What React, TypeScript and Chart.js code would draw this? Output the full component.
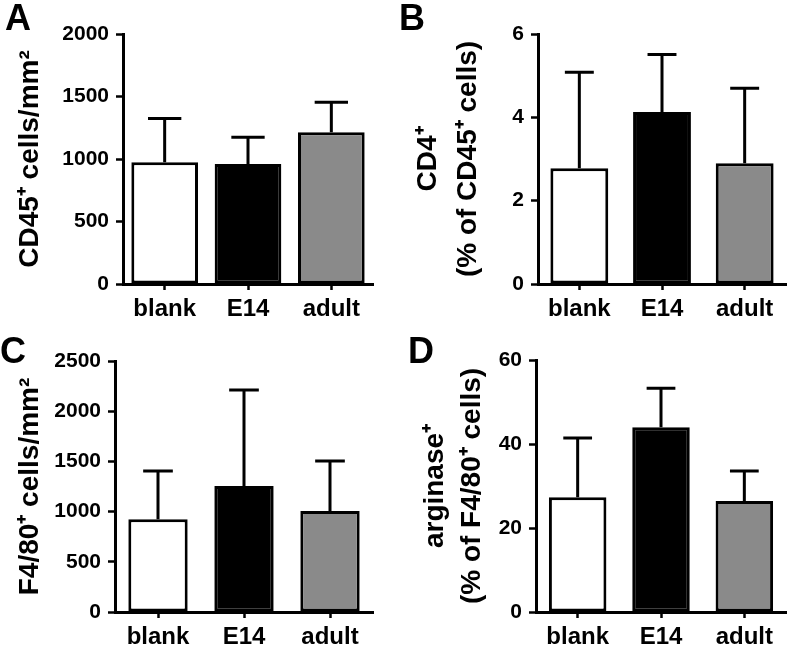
import React, { useEffect, useRef } from "react";
import { Chart, registerables } from "chart.js";

Chart.register(...registerables);

// ---------- data ----------
const categories = ["blank", "E14", "adult"];
const barColors = ["#ffffff", "#000000", "#8a8a8a"];

const cd45Means = [975, 960, 1215];
const cd45Sd = [350, 215, 240];

const cd4Means = [2.78, 4.13, 2.9];
const cd4Sd = [2.3, 1.38, 1.8];

const f480Means = [925, 1255, 1005];
const f480Sd = [480, 955, 500];

const arginaseMeans = [27.3, 44.0, 26.4];
const arginaseSd = [14.1, 9.3, 7.2];

const cd45Title = "CD45\u207A cells/mm\u00B2";
const cd4Title = ["CD4\u207A", "(% of CD45\u207A cells)"];
const f480Title = "F4/80\u207A cells/mm\u00B2";
const arginaseTitle = ["arginase\u207A", "(% of F4/80\u207A cells)"];

const FONT = "'Liberation Sans', Arial, Helvetica, sans-serif";

type PanelSpec = {
  letter: string;
  letterX: number;
  letterY: number;
  x: number;
  y: number;
  w: number;
  h: number;
  areaLeft: number;
  areaTop: number;
  areaRight: number;
  areaBottom: number;
  means: number[];
  sd: number[];
  yMax: number;
  step: number;
  title: string | string[];
  titlePad: number;
  titleLineHeight: number;
  barPct: number;
};

const panels: PanelSpec[] = [
  {
    letter: "A", letterX: 5, letterY: 0,
    x: 0, y: 0, w: 396, h: 330,
    areaLeft: 123, areaTop: 34, areaRight: 373, areaBottom: 284,
    means: cd45Means, sd: cd45Sd, yMax: 2000, step: 500,
    title: cd45Title, titlePad: 13, titleLineHeight: 1.2, barPct: 0.8,
  },
  {
    letter: "B", letterX: 399, letterY: 0,
    x: 396, y: 0, w: 396, h: 330,
    areaLeft: 142, areaTop: 34, areaRight: 390, areaBottom: 284,
    means: cd4Means, sd: cd4Sd, yMax: 6, step: 2,
    title: cd4Title, titlePad: 12, titleLineHeight: 1.43, barPct: 0.7,
  },
  {
    letter: "C", letterX: 0, letterY: 333,
    x: 0, y: 330, w: 396, h: 321,
    areaLeft: 115, areaTop: 31, areaRight: 373, areaBottom: 282,
    means: f480Means, sd: f480Sd, yMax: 2500, step: 500,
    title: f480Title, titlePad: 13, titleLineHeight: 1.2, barPct: 0.69,
  },
  {
    letter: "D", letterX: 408, letterY: 333,
    x: 396, y: 330, w: 396, h: 321,
    areaLeft: 140, areaTop: 30, areaRight: 390, areaBottom: 282,
    means: arginaseMeans, sd: arginaseSd, yMax: 60, step: 20,
    title: arginaseTitle, titlePad: 21, titleLineHeight: 1.32, barPct: 0.69,
  },
];

const errorBarPlugin = {
  id: "errorBars",
  afterDatasetsDraw(chart: any, _args: any, opts: any) {
    const { ctx } = chart;
    const meta = chart.getDatasetMeta(0);
    const yScale = chart.scales.y;
    const means = chart.data.datasets[0].data as number[];
    const sds = opts.sd as number[];
    ctx.save();
    ctx.strokeStyle = "#000";
    ctx.lineWidth = 3;
    ctx.lineCap = "butt";
    meta.data.forEach((bar: any, i: number) => {
      const x = bar.x;
      const yBar = yScale.getPixelForValue(means[i]);
      const yTop = yScale.getPixelForValue(means[i] + sds[i]);
      const half = bar.width / 4;
      ctx.beginPath();
      ctx.moveTo(x, yBar);
      ctx.lineTo(x, yTop);
      ctx.moveTo(x - half, yTop);
      ctx.lineTo(x + half, yTop);
      ctx.stroke();
    });
    ctx.restore();
  },
};

function Panel({ spec }: { spec: PanelSpec }) {
  const ref = useRef<HTMLCanvasElement>(null);
  useEffect(() => {
    const chart = new Chart(ref.current as HTMLCanvasElement, {
      type: "bar",
      data: {
        labels: categories,
        datasets: [
          {
            data: spec.means,
            backgroundColor: barColors,
            borderColor: "#000",
            borderWidth: 3,
            borderSkipped: false,
            barPercentage: spec.barPct,
            categoryPercentage: 1,
          },
        ],
      },
      options: {
        responsive: false,
        animation: false,
        devicePixelRatio: 1,
        layout: {
          padding: {
            left: 0,
            top: spec.areaTop,
            right: spec.w - spec.areaRight,
            bottom: 0,
          },
        },
        plugins: {
          legend: { display: false },
          tooltip: { enabled: false },
          errorBars: { sd: spec.sd },
        } as any,
        scales: {
          x: {
            offset: true,
            grid: {
              display: true,
              drawOnChartArea: false,
              drawTicks: true,
              offset: false,
              tickLength: 6,
              tickWidth: 2.5,
              tickColor: "#000",
              color: "#000",
            },
            border: { display: true, color: "#000", width: 3 },
            ticks: {
              color: "#000",
              padding: 5,
              maxRotation: 0,
              autoSkip: false,
              font: { family: FONT, size: 24, weight: "bold" },
            },
            afterFit: (scale: any) => {
              scale.height = spec.h - spec.areaBottom;
            },
          },
          y: {
            min: 0,
            max: spec.yMax,
            ticks: {
              stepSize: spec.step,
              color: "#000",
              padding: 7,
              font: { family: FONT, size: 21, weight: "bold" },
              callback: (v: any) => String(v),
            },
            grid: {
              display: true,
              drawOnChartArea: false,
              drawTicks: true,
              tickLength: 7,
              tickWidth: 2.5,
              tickColor: "#000",
              color: "#000",
            },
            border: { display: true, color: "#000", width: 3 },
            title: {
              display: true,
              text: spec.title,
              color: "#000",
              padding: { top: spec.titlePad, bottom: 0 },
              font: {
                family: FONT,
                size: 28,
                weight: "bold",
                lineHeight: spec.titleLineHeight,
              },
            },
            afterFit: (scale: any) => {
              scale.width = spec.areaLeft;
            },
          },
        },
      } as any,
      plugins: [errorBarPlugin],
    });
    return () => chart.destroy();
  }, [spec]);

  return (
    <canvas
      ref={ref}
      width={spec.w}
      height={spec.h}
      style={{
        position: "absolute",
        left: spec.x,
        top: spec.y,
        width: spec.w,
        height: spec.h,
        display: "block",
      }}
    />
  );
}

export default function App() {
  return (
    <div
      style={{
        position: "absolute",
        left: 0,
        top: 0,
        width: 792,
        height: 651,
        background: "#fff",
        overflow: "hidden",
      }}
    >
      {panels.map((p) => (
        <Panel key={p.letter} spec={p} />
      ))}
      {panels.map((p) => (
        <div
          key={"l" + p.letter}
          style={{
            position: "absolute",
            left: p.letterX,
            top: p.letterY,
            fontFamily: FONT,
            fontWeight: "bold",
            fontSize: 36,
            lineHeight: 1,
            color: "#000",
          }}
        >
          {p.letter}
        </div>
      ))}
    </div>
  );
}
